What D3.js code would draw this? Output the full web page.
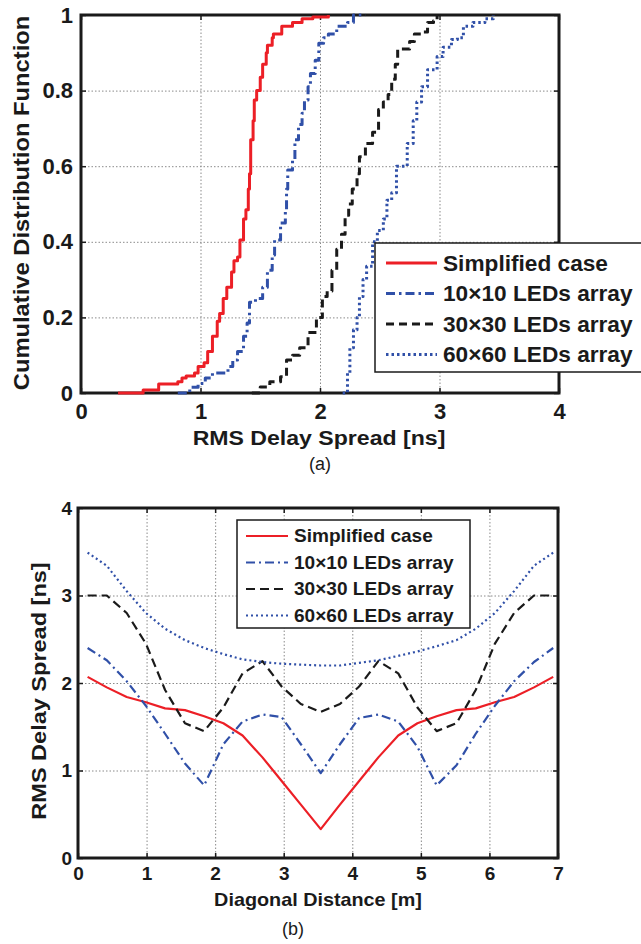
<!DOCTYPE html>
<html>
<head>
<meta charset="utf-8">
<script src="https://cdn.jsdelivr.net/npm/d3@7"></script>
<style>
body{margin:0;background:#ffffff;}
svg{display:block;}
</style>
</head>
<body>
<svg id="fig" width="641" height="944"></svg>
<script>
// ---- data ----
var seriesNames=["Simplified case","10\u00d710 LEDs array","30\u00d730 LEDs array","60\u00d760 LEDs array"];
var seriesColors=["#ec1f26","#3050a8","#1a1a1a","#3050a8"];

// (a) empirical CDF of RMS delay spread [ns] : step points
var cdfSimpX=[0.31,0.52,0.65,0.81,0.845,0.88,0.95,0.98,1.03,1.06,1.10,1.14,1.16,1.19,1.22,1.26,1.28,1.31,1.33,1.36,1.38,1.40,1.41,1.42,1.44,1.45,1.47,1.50,1.52,1.55,1.56,1.60,1.61,1.68,1.77,1.85,1.94,2.07];
var cdfSimpY=[0,0.008,0.024,0.03,0.04,0.045,0.053,0.07,0.08,0.11,0.15,0.19,0.21,0.25,0.28,0.32,0.35,0.36,0.405,0.46,0.485,0.54,0.58,0.67,0.72,0.775,0.80,0.835,0.87,0.90,0.92,0.94,0.95,0.97,0.98,0.99,0.995,1.0];

var cdf10X=[0.81,0.91,0.98,1.04,1.10,1.23,1.27,1.31,1.36,1.39,1.41,1.46,1.52,1.56,1.60,1.62,1.67,1.71,1.72,1.73,1.77,1.79,1.82,1.85,1.87,1.90,1.92,1.96,1.99,2.03,2.07,2.14,2.23,2.28,2.38];
var cdf10Y=[0,0.015,0.025,0.04,0.053,0.07,0.087,0.11,0.15,0.185,0.24,0.25,0.28,0.325,0.365,0.405,0.45,0.485,0.54,0.59,0.615,0.67,0.71,0.74,0.775,0.81,0.845,0.88,0.925,0.94,0.95,0.97,0.98,1.0,1.0];

var cdf30X=[1.43,1.50,1.58,1.67,1.72,1.77,1.83,1.90,1.97,2.02,2.06,2.10,2.14,2.18,2.21,2.24,2.27,2.31,2.33,2.38,2.44,2.49,2.53,2.57,2.60,2.63,2.65,2.75,2.79,2.86,2.90,2.95,2.98];
var cdf30Y=[0,0.016,0.03,0.043,0.087,0.10,0.12,0.16,0.20,0.255,0.27,0.325,0.38,0.42,0.47,0.50,0.54,0.58,0.625,0.66,0.69,0.75,0.77,0.79,0.83,0.87,0.91,0.93,0.95,0.955,0.98,0.985,1.0];

var cdf60X=[2.19,2.23,2.25,2.28,2.31,2.33,2.36,2.39,2.44,2.48,2.53,2.56,2.60,2.64,2.73,2.78,2.81,2.85,2.90,2.98,3.03,3.10,3.15,3.20,3.28,3.38,3.45];
var cdf60Y=[0,0.053,0.12,0.167,0.20,0.255,0.30,0.335,0.40,0.43,0.46,0.51,0.53,0.60,0.66,0.72,0.77,0.81,0.855,0.89,0.915,0.935,0.94,0.97,0.98,0.99,1.0];

// (b) RMS delay spread [ns] along the room diagonal [m]
var distX=[0.14,0.42,0.71,0.99,1.27,1.56,1.84,2.12,2.40,2.69,2.97,3.25,3.54,3.82,4.10,4.38,4.67,4.95,5.23,5.52,5.80,6.08,6.36,6.65,6.93];
var rmsSimp=[2.07,1.95,1.84,1.78,1.71,1.69,1.62,1.54,1.40,1.15,0.88,0.61,0.33,0.61,0.88,1.15,1.40,1.54,1.62,1.69,1.71,1.78,1.84,1.95,2.07];
var rms10=[2.40,2.26,2.02,1.74,1.42,1.08,0.83,1.30,1.56,1.64,1.61,1.30,0.97,1.30,1.60,1.64,1.56,1.27,0.83,1.06,1.42,1.74,2.02,2.24,2.40];
var rms30=[3.0,3.0,2.80,2.45,1.92,1.54,1.45,1.72,2.11,2.25,1.96,1.76,1.67,1.76,1.96,2.25,2.11,1.72,1.45,1.54,1.92,2.45,2.80,3.0,3.0];
var rms60=[3.49,3.34,3.05,2.80,2.62,2.49,2.40,2.33,2.27,2.24,2.22,2.21,2.20,2.20,2.23,2.26,2.31,2.36,2.42,2.49,2.62,2.80,3.05,3.34,3.49];

// ticks
var cdfTicksX=[0,1,2,3,4];
var cdfTicksY=[0,0.2,0.4,0.6,0.8,1];
var distTicksX=[0,1,2,3,4,5,6,7];
var distTicksY=[0,1,2,3,4];

// ---- drawing ----
var svg=d3.select("#fig");
var FONT="'Liberation Sans', Arial, Helvetica, sans-serif";

function addText(g,str,x,y,size,opt){
    opt=opt||{};
    return g.append("text")
        .attr("transform","translate("+x+","+y+") rotate("+(opt.rot||0)+") scale("+(opt.sx||1.1)+",1)")
        .style("font-family",FONT)
        .style("font-weight",opt.normal?"normal":"bold")
        .style("font-size",size+"px")
        .style("fill","#1a1a1a")
        .style("text-anchor",opt.anchor||"middle")
        .text(str);
}

function drawPanel(p){
    var g=svg.append("g").attr("transform","translate("+p.left+","+p.top+")");
    var x=d3.scaleLinear().domain(p.xDomain).range([0,p.w]);
    var y=d3.scaleLinear().domain(p.yDomain).range([p.h,0]);

    // grid
    g.append("g").attr("class","grid")
        .call(d3.axisBottom(x).tickValues(p.xTicks.slice(1,-1)).tickSize(p.h).tickFormat(""));
    g.append("g").attr("class","grid")
        .call(d3.axisLeft(y).tickValues(p.yTicks.slice(1,-1)).tickSize(-p.w).tickFormat(""));
    g.selectAll(".grid path").remove();
    g.selectAll(".grid line").attr("stroke","#8a8a8a").attr("stroke-width",1).attr("stroke-dasharray","1.5,2");

    // inward ticks on all four sides
    var tk=5;
    g.append("g").attr("class","tk").attr("transform","translate(0,"+p.h+")")
        .call(d3.axisBottom(x).tickValues(p.xTicks).tickSize(-tk).tickFormat(""));
    g.append("g").attr("class","tk")
        .call(d3.axisTop(x).tickValues(p.xTicks).tickSize(-tk).tickFormat(""));
    g.append("g").attr("class","tk")
        .call(d3.axisLeft(y).tickValues(p.yTicks).tickSize(-tk).tickFormat(""));
    g.append("g").attr("class","tk").attr("transform","translate("+p.w+",0)")
        .call(d3.axisRight(y).tickValues(p.yTicks).tickSize(-tk).tickFormat(""));
    g.selectAll(".tk path").remove();
    g.selectAll(".tk line").attr("stroke","#1a1a1a").attr("stroke-width",1.5);

    // frame
    g.append("rect").attr("x",0).attr("y",0).attr("width",p.w).attr("height",p.h)
        .attr("fill","none").attr("stroke","#1a1a1a").attr("stroke-width",3);

    // tick labels
    var ax=g.append("g").attr("transform","translate(0,"+p.h+")")
        .call(d3.axisBottom(x).tickValues(p.xTicks).tickSize(0).tickPadding(p.xPad).tickFormat(p.xFmt));
    var ay=g.append("g")
        .call(d3.axisLeft(y).tickValues(p.yTicks).tickSize(0).tickPadding(p.yPad).tickFormat(p.yFmt));
    [ax,ay].forEach(function(a){
        a.select(".domain").remove();
        a.selectAll("text")
            .style("font-family",FONT).style("font-weight","bold")
            .style("font-size",p.tickFont+"px").style("fill","#1a1a1a");
    });

    // lines
    var line=d3.line().x(function(d){return x(d[0]);}).y(function(d){return y(d[1]);}).curve(p.curve);
    p.series.forEach(function(s,i){
        g.append("path")
            .datum(d3.zip(s.x,s.y))
            .attr("d",line)
            .attr("fill","none")
            .attr("stroke",seriesColors[i])
            .attr("stroke-width",p.lw)
            .attr("stroke-linejoin","round")
            .attr("stroke-dasharray",p.dash[i]);
    });

    // legend
    var L=p.legend;
    var lg=svg.append("g").attr("transform","translate("+L.x+","+L.y+")");
    lg.append("rect").attr("width",L.w).attr("height",L.h)
        .attr("fill","#ffffff").attr("stroke","#1a1a1a").attr("stroke-width",1.5);
    seriesNames.forEach(function(n,i){
        var yy=L.row0+i*L.step;
        lg.append("line").attr("x1",L.lx0).attr("x2",L.lx1).attr("y1",yy).attr("y2",yy)
            .attr("stroke",seriesColors[i]).attr("stroke-width",p.lw)
            .attr("stroke-dasharray",p.dash[i]);
        addText(lg,n,L.tx,yy+L.font*0.36,L.font,{anchor:"start",sx:L.sx});
    });
    return g;
}

// (a)
drawPanel({
    left:81, top:15, w:478, h:378,
    xDomain:[0,4], yDomain:[0,1],
    xTicks:cdfTicksX, yTicks:cdfTicksY,
    xFmt:d3.format("d"), yFmt:function(d){return String(d);},
    xPad:10, yPad:8, tickFont:22,
    curve:d3.curveStepAfter, lw:3,
    dash:[null,"9,4,2.5,4","8,5","2.5,3"],
    series:[{x:cdfSimpX,y:cdfSimpY},{x:cdf10X,y:cdf10Y},{x:cdf30X,y:cdf30Y},{x:cdf60X,y:cdf60Y}],
    legend:{x:375,y:243,w:280,h:129,row0:20,step:30.5,lx0:11,lx1:62,tx:68,font:22,sx:1.03}
});
addText(svg,"Cumulative Distribution Function",29,203,22,{rot:-90,sx:1.08});
addText(svg,"RMS Delay Spread [ns]",319,445,21);
addText(svg,"(a)",320,470,18,{normal:true,sx:1});

// (b)
drawPanel({
    left:78, top:508, w:480, h:350,
    xDomain:[0,7], yDomain:[0,4],
    xTicks:distTicksX, yTicks:distTicksY,
    xFmt:d3.format("d"), yFmt:d3.format("d"),
    xPad:9, yPad:6, tickFont:19,
    curve:d3.curveLinear, lw:2.2,
    dash:[null,"9,4,2,4","9,5","2,3"],
    series:[{x:distX,y:rmsSimp},{x:distX,y:rms10},{x:distX,y:rms30},{x:distX,y:rms60}],
    legend:{x:237,y:520,w:233,h:108,row0:16,step:26.5,lx0:9,lx1:51,tx:57,font:18,sx:1.06}
});
addText(svg,"RMS Delay Spread [ns]",46,691,21,{rot:-90,sx:1.12});
addText(svg,"Diagonal Distance [m]",318,906,18);
addText(svg,"(b)",293,935,18,{normal:true,sx:1});
</script>
</body>
</html>
